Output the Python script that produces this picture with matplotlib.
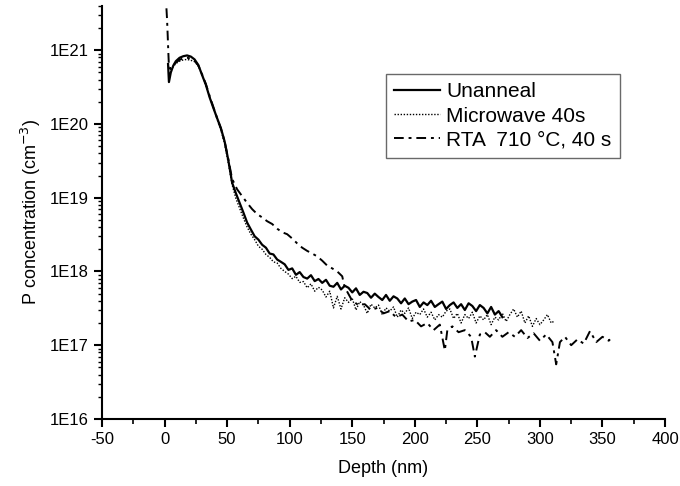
import matplotlib
matplotlib.use("Agg")
import matplotlib.pyplot as plt
from matplotlib.ticker import MultipleLocator, LogLocator, FuncFormatter
import numpy as np

plt.rcParams['font.family'] = ['Liberation Sans', 'DejaVu Sans']
plt.rcParams['axes.unicode_minus'] = False

# SIMS profiles (depth in nm, P in cm^-3)
unanneal_depth = [2.8, 3.5, 5, 7, 9, 12, 15, 18, 21, 24, 27, 30, 33, 36, 39, 42, 45, 48, 51, 54,
                  57, 60, 63, 66, 69, 72, 75, 78, 81, 84, 87, 90, 93, 96, 99, 102, 105, 108, 111, 114,
                  117, 120, 123, 126, 129, 132, 135, 138, 141, 144, 147, 150, 153, 156, 159, 162, 165,
                  168, 171, 174, 177, 180, 183, 186, 189, 192, 195, 198, 201, 204, 207, 210, 213, 216,
                  219, 222, 225, 228, 231, 234, 237, 240, 243, 246, 249, 252, 255, 258, 261, 264, 267, 270]
unanneal_conc = [6.5e20, 3.7e20, 5.0e20, 6.2e20, 7.1e20, 7.9e20, 8.3e20, 8.5e20, 8.2e20, 7.5e20,
                 6.3e20, 4.6e20, 3.4e20, 2.3e20, 1.65e20, 1.2e20, 8.8e19, 5.8e19, 3.2e19, 1.6e19,
                 1.15e19, 8.5e18, 6.3e18, 4.6e18, 3.7e18, 3.0e18, 2.7e18, 2.3e18, 2.1e18, 1.75e18,
                 1.7e18, 1.45e18, 1.35e18, 1.25e18, 1.05e18,
                 1.1e18, 9.0e17, 9.8e17, 8.4e17, 8.0e17, 8.9e17, 7.4e17, 7.9e17, 7.0e17, 7.7e17,
                 6.4e17, 6.2e17, 7.0e17, 5.7e17, 6.4e17, 6.0e17, 5.2e17, 5.9e17, 4.8e17, 5.3e17,
                 5.1e17, 4.4e17, 5.0e17, 4.5e17, 4.1e17, 4.8e17, 4.0e17, 4.6e17, 4.3e17, 3.7e17,
                 4.3e17, 3.6e17, 3.9e17, 4.1e17, 3.3e17, 3.8e17, 3.5e17, 4.0e17, 3.3e17, 3.6e17,
                 3.9e17, 3.1e17, 3.5e17, 3.8e17, 3.2e17, 3.6e17, 3.0e17, 3.7e17, 3.4e17, 2.9e17,
                 3.5e17, 3.2e17, 2.7e17, 3.3e17, 2.6e17, 2.9e17, 2.4e17]

microwave_depth = [3, 5, 7, 9, 12, 15, 18, 21, 24, 27, 30, 33, 36, 39, 42, 45, 48, 51, 54, 57,
                   60, 63, 66, 69, 72, 75, 78, 81, 84, 87, 90, 93, 96, 99, 102, 105, 108, 111, 114, 117,
                   120, 123, 126, 129, 132, 135, 138, 141, 144, 147, 150, 153, 156, 159, 162, 165, 168,
                   171, 174, 177, 180, 183, 186, 189, 192, 195, 198, 201, 204, 207, 210, 213, 216, 219,
                   222, 225, 228, 231, 234, 237, 240, 243, 246, 249, 252, 255, 258, 261, 264, 267, 270,
                   273, 276, 279, 282, 285, 288, 291, 294, 297, 300, 303, 306, 309, 311]
microwave_conc = [6.0e20, 5.5e20, 6.0e20, 6.6e20, 7.1e20, 7.4e20, 7.5e20, 7.3e20, 7.0e20, 6.1e20,
                  4.6e20, 3.4e20, 2.35e20, 1.65e20, 1.15e20, 8.3e19, 5.4e19, 2.9e19, 1.5e19, 9.8e18,
                  7.2e18, 5.3e18, 4.0e18, 3.2e18, 2.7e18, 2.2e18, 2.0e18, 1.7e18, 1.55e18, 1.35e18,
                  1.3e18, 1.1e18, 1.0e18, 9.2e17,
                  8.0e17, 8.6e17, 7.1e17, 7.3e17, 6.0e17, 6.8e17, 5.4e17, 6.1e17, 5.6e17, 4.5e17,
                  5.4e17, 3.2e17, 4.6e17, 3.1e17, 4.4e17, 3.8e17, 4.3e17, 3.0e17, 3.9e17, 3.5e17,
                  2.7e17, 3.6e17, 3.2e17, 3.5e17, 2.6e17, 3.2e17, 2.9e17, 3.3e17, 2.4e17, 3.0e17,
                  2.7e17, 3.2e17, 2.3e17, 2.8e17, 2.6e17, 3.1e17, 2.4e17, 2.8e17, 2.2e17, 2.6e17,
                  2.4e17, 2.9e17, 3.1e17, 2.3e17, 2.7e17, 2.0e17, 2.6e17, 2.3e17, 2.8e17, 2.0e17,
                  2.5e17, 2.2e17, 2.6e17, 1.9e17, 2.4e17, 2.2e17, 2.7e17, 2.1e17, 2.6e17, 3.1e17,
                  2.4e17, 2.9e17, 2.0e17, 2.5e17, 1.8e17, 2.3e17, 1.9e17, 2.2e17, 2.6e17, 2.0e17, 2.1e17]

rta_depth = [1.5, 2.0, 2.5, 3.0, 3.5, 4.5, 6, 9, 12, 15, 18, 21, 24, 27, 30, 33, 36, 39, 42, 45,
             48, 51, 54, 58, 62, 66, 70, 74, 78, 82, 86, 90, 94, 98, 102, 106, 110, 114, 118, 122,
             126, 130, 134, 138, 142, 144, 146, 148, 150, 155, 160, 165, 170, 175, 180, 185, 190,
             195, 200, 205, 210, 215, 220, 224, 226, 230, 235, 240, 245, 248, 252, 256, 260, 265,
             270, 275, 280, 285, 290, 295, 300, 305, 310, 313, 316, 320, 325, 330, 335, 340, 345,
             350, 355, 358]
rta_conc = [3.7e21, 2.6e21, 1.6e21, 9.5e20, 6.0e20, 5.6e20, 6.0e20, 6.8e20, 7.4e20, 7.8e20,
            7.9e20, 7.7e20, 7.2e20, 6.2e20, 4.7e20, 3.5e20, 2.4e20, 1.7e20, 1.2e20, 8.7e19,
            5.8e19, 3.3e19, 1.8e19, 1.3e19, 1.05e19, 8.5e18, 7.0e18, 6.0e18, 5.4e18, 4.8e18,
            4.4e18, 3.8e18, 3.4e18, 3.2e18, 2.8e18, 2.4e18, 2.1e18, 1.9e18, 1.75e18, 1.6e18,
            1.4e18, 1.2e18, 1.1e18, 1.0e18, 8.6e17, 6.0e17, 5.3e17, 4.6e17, 4.0e17, 3.5e17,
            3.6e17, 3.0e17, 3.2e17, 2.7e17, 2.9e17, 2.4e17, 2.6e17, 2.1e17, 2.2e17, 1.8e17,
            2.0e17, 1.6e17, 1.9e17, 8.5e16, 1.6e17, 1.8e17, 1.5e17, 1.6e17, 1.3e17, 7.0e16,
            1.4e17, 1.5e17, 1.3e17, 1.6e17, 1.3e17, 1.5e17, 1.3e17, 1.6e17, 1.25e17, 1.45e17,
            1.15e17, 1.4e17, 1.1e17, 5.5e16, 1.1e17, 1.3e17, 1.0e17, 1.2e17, 1.05e17, 1.55e17,
            1.1e17, 1.3e17, 1.15e17, 1.3e17]

x_ticks = [-50, 0, 50, 100, 150, 200, 250, 300, 350, 400]

fig = plt.figure(figsize=(6.8, 4.86), dpi=100)
ax = fig.add_axes([0.15, 0.138, 0.828, 0.85])

ax.plot(unanneal_depth, unanneal_conc, color='black', lw=1.6, label='Unanneal')
ax.plot(microwave_depth, microwave_conc, color='black', lw=1.0, ls=(0, (1, 1.2)), label='Microwave 40s')
ax.plot(rta_depth, rta_conc, color='black', lw=1.4, ls=(0, (5, 2.5, 1.5, 2.5)), label='RTA  710 \u00b0C, 40 s')

ax.set_yscale('log')
ax.set_xlim(-50, 400)
ax.set_ylim(1e16, 4e21)
ax.set_xticks(x_ticks)
ax.xaxis.set_minor_locator(MultipleLocator(25))
ax.yaxis.set_major_locator(LogLocator(base=10, numticks=10))
ax.yaxis.set_minor_locator(LogLocator(base=10, subs=np.arange(2, 10), numticks=12))
ax.yaxis.set_major_formatter(FuncFormatter(lambda v, p: '1E%d' % round(np.log10(v))))
ax.yaxis.set_minor_formatter(FuncFormatter(lambda v, p: ''))

for side in ['top', 'right']:
    ax.spines[side].set_visible(False)
for side in ['left', 'bottom']:
    ax.spines[side].set_linewidth(1.5)
ax.tick_params(which='major', direction='out', length=6, width=1.5, labelsize=12, colors='black')
ax.tick_params(which='minor', direction='out', length=3.5, width=1.2)
ax.tick_params(axis='y', which='minor', length=3, width=1)

ax.set_xlabel('Depth (nm)', fontsize=13, labelpad=9)
ax.set_ylabel('P concentration (cm$^{-3}$)', fontsize=13, labelpad=5)

leg = ax.legend(loc='upper left', bbox_to_anchor=(0.504, 0.835), fontsize=15, frameon=True,
                fancybox=False, edgecolor='#444444', handlelength=2.2, labelspacing=0.25,
                borderpad=0.4, handletextpad=0.3, borderaxespad=0)
leg.get_frame().set_linewidth(1.0)

fig.savefig('out.png', dpi=100)
